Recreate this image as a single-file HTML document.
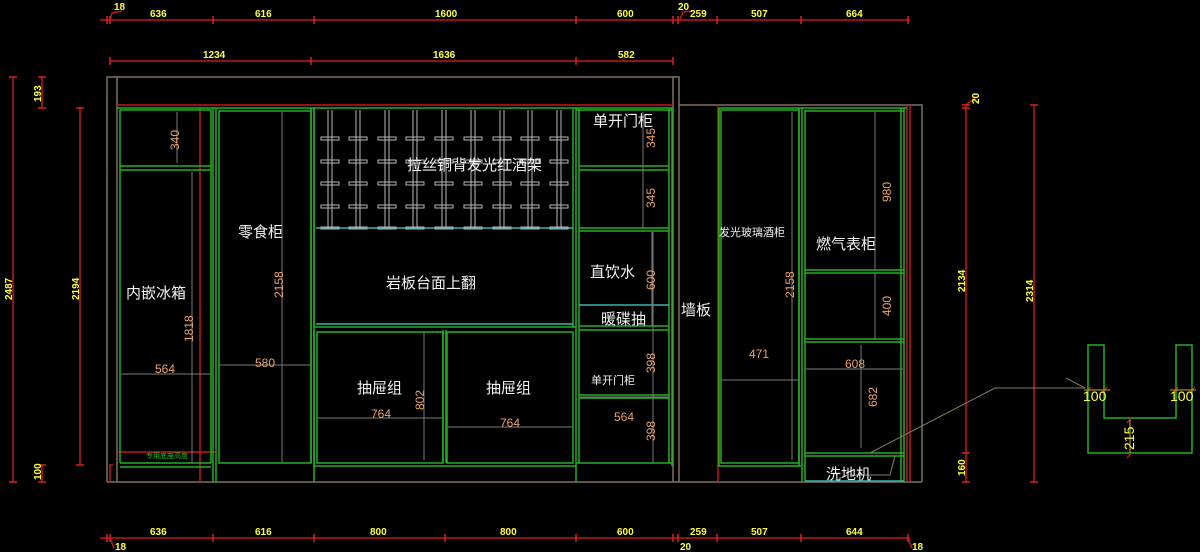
<!DOCTYPE html>
<html><head><meta charset="utf-8"><style>
html,body{margin:0;padding:0;background:#000;}
svg{display:block}
text{font-family:"Liberation Sans","Noto Sans CJK SC",sans-serif;}
.w{fill:#f2f2f2;font-size:15px;}
.o{fill:#e9a46c;font-size:12px;font-family:"Liberation Sans Narrow","Liberation Sans",sans-serif;}
.y{fill:#ffff40;font-size:10px;font-weight:bold;font-family:"Liberation Sans Narrow","Liberation Sans",sans-serif;}
</style></head><body>
<svg width="1200" height="552" viewBox="0 0 1200 552" xmlns="http://www.w3.org/2000/svg">
<rect width="1200" height="552" fill="#000"/>
<g stroke="#c01818" stroke-width="1.5" fill="none">
<line x1="100" y1="20" x2="910" y2="20"/>
<line x1="110" y1="61" x2="673" y2="61"/>
<line x1="100" y1="538" x2="910" y2="538"/>
<line x1="13" y1="77" x2="13" y2="482"/>
<line x1="42" y1="77" x2="42" y2="108"/>
<line x1="42" y1="465" x2="42" y2="482"/>
<line x1="80" y1="108" x2="80" y2="465"/>
<line x1="966" y1="105" x2="966" y2="482"/>
<line x1="1034" y1="105" x2="1034" y2="482"/>
<path d="M110 20 L112 13 L122 11"/><path d="M680 20 L683 12 L692 11"/>
<path d="M110 538 L114 548"/><path d="M908 538 L912 548"/>
<path d="M966 105 L975 98"/>
</g>
<g stroke="#e02020" stroke-width="1.5">
<path d="M107 16v8M110 16v8M213 16v8M314 16v8M576 16v8M673 16v8M678 16v8M717 16v8M801 16v8M908 16v8"/>
<path d="M110 57v8M311 57v8M576 57v8M673 57v8"/>
<path d="M107 534v8M110 534v8M213 534v8M314 534v8M445 534v8M576 534v8M673 534v8M678 534v8M717 534v8M801 534v8M908 534v8"/>
<path d="M9 77h8M9 482h8M38 77h8M38 108h8M38 465h8M38 482h8M76 108h8M76 465h8"/>
<path d="M962 105h8M962 108h8M962 453h8M962 482h8M1030 105h8M1030 482h8"/>
</g>
<g class="y">
<text class="y" x="114" y="10">18</text>
<text class="y" x="150" y="17">636</text><text class="y" x="255" y="17">616</text>
<text class="y" x="435" y="17">1600</text><text class="y" x="617" y="17">600</text>
<text class="y" x="678" y="10">20</text><text class="y" x="690" y="17">259</text>
<text class="y" x="751" y="17">507</text><text class="y" x="846" y="17">664</text>
<text class="y" x="203" y="58">1234</text><text class="y" x="433" y="58">1636</text><text class="y" x="618" y="58">582</text>
<text class="y" x="150" y="535">636</text><text class="y" x="255" y="535">616</text>
<text class="y" x="370" y="535">800</text><text class="y" x="500" y="535">800</text>
<text class="y" x="617" y="535">600</text><text class="y" x="690" y="535">259</text>
<text class="y" x="751" y="535">507</text><text class="y" x="846" y="535">644</text>
<text class="y" x="115" y="550">18</text><text class="y" x="680" y="550">20</text><text class="y" x="912" y="550">18</text>
<text class="y" transform="translate(12,300) rotate(-90)">2487</text>
<text class="y" transform="translate(41,102) rotate(-90)">193</text>
<text class="y" transform="translate(41,480) rotate(-90)">100</text>
<text class="y" transform="translate(79,300) rotate(-90)">2194</text>
<text class="y" transform="translate(979,104) rotate(-90)">20</text>
<text class="y" transform="translate(965,292) rotate(-90)">2134</text>
<text class="y" transform="translate(965,476) rotate(-90)">160</text>
<text class="y" transform="translate(1033,302) rotate(-90)">2314</text>
</g>
<g stroke="#7d7060" stroke-width="1.5" fill="none">
<path d="M107 482 V77 H679 V482"/><path d="M117 77 V482"/><path d="M673 77 V482"/>
<path d="M679 105 H922 V482"/><path d="M107 482 H922"/>
</g>
<g stroke="#c01818" stroke-width="1.5" fill="none">
<path d="M117 105 H673"/><path d="M200 108 V482"/><path d="M117 452 H215"/>
<path d="M110 482 V465 H113"/>
<path d="M718 105 V482"/><path d="M907 105 V482"/><path d="M910 105 V482"/>
</g>
<g stroke="#22b022" stroke-width="1.5" fill="none">
<path d="M117 108 H673"/>
<rect x="120" y="110" width="91" height="56"/>
<path d="M120 170 H211 M120 166 V463 M211 166 V463 M120 463 H211 M120 467 H211"/>
<path d="M213 108 V482 M216 108 V482"/>
<rect x="219" y="111" width="92" height="352"/>
<path d="M311 108 V463 M314 108 V482"/>
<path d="M314 108 V327 M576 108 V482 M573 108 V327"/>
<path d="M314 327 H576"/>
<rect x="317" y="332" width="126" height="131"/><rect x="447" y="332" width="126" height="131"/>
<path d="M314 330 V466 H576 M443 330 V463 M446 330 V463"/>
<path d="M576 110 H672 M672 108 V466 M669 108 V463 M579 108 V463"/>
<path d="M579 166 H669 M579 170 H669"/>
<path d="M579 228 H669 M579 231 H669"/>
<path d="M579 326 H669 M579 330 H669"/>
<path d="M579 395 H669 M579 398 H669"/>
<path d="M576 463 H672"/>
<path d="M719 108 H907"/>
<rect x="721" y="110" width="78" height="353"/>
<path d="M719 108 V466 H801 M799 108 V466 M802 108 V482 M805 110 V482"/>
<path d="M805 111 H904 M904 108 V482 M901 108 V482"/>
<path d="M805 270 H904 M805 273 H904"/>
<path d="M805 339 H904 M805 342 H904"/>
<path d="M805 453 H904 M805 456 H904"/>
<path d="M1088 345 V453 H1192 V345 H1176 V418 H1104 V345 Z"/>
</g>
<g stroke="#3ab0b0" stroke-width="1.5" fill="none">
<path d="M316 228 H573 M316 324 H573 M579 305 H669 M805 481 H904"/>
</g>
<g stroke="#b8b8b8" stroke-width="1" fill="none">
<path d="M328 110V228M332 110V228M356 110V228M360 110V228M385 110V228M389 110V228M413 110V228M417 110V228M442 110V228M446 110V228M471 110V228M475 110V228M500 110V228M504 110V228M528 110V228M532 110V228M557 110V228M561 110V228"/>
<g id="bars">
<path d="M321 137h18v3h-18zM321 160h18v3h-18zM321 182h18v3h-18zM321 205h18v3h-18zM321 227h18v2h-18z"/>
</g>
<use href="#bars" x="28"/><use href="#bars" x="57"/><use href="#bars" x="85"/><use href="#bars" x="114"/><use href="#bars" x="143"/><use href="#bars" x="172"/><use href="#bars" x="200"/><use href="#bars" x="229"/>
</g>
<g stroke="#7a7a7a" stroke-width="1" fill="none">
<path d="M177 112 V163 M192 172 V463 M282 112 V463 M643 112 V228 M653 232 V463 M652 232 V326"/>
<path d="M121 374 H211 M218 365 H311 M318 418 H442 M448 427 H572 M424 332 V460 M580 397 H669 M792 112 V460 M875 112 V270 M875 273 V339 M861 345 V448 M722 380 H799 M806 369 H903"/>
</g>
<g stroke="#8a7a60" stroke-width="1" fill="none">
<path d="M870 453 L995 388 H1085"/><path d="M1066 378 L1085 388"/>
<path d="M895 456 L890 475 H850"/>
</g>
<g stroke="#e02020" stroke-width="1.2"><path d="M1086 393l5-6M1102 393l5-6M1173 393l5-6M1190 393l5-6M1127 423l5-6M1127 458l5-6"/></g>
<g stroke="#c8b020" stroke-width="1"><path d="M1084 390H1110M1170 390H1196M1130 420V453"/></g>
<text class="w" x="407" y="170">拉丝铜背发光红酒架</text>
<text class="w" x="386" y="288">岩板台面上翻</text>
<text class="w" x="238" y="237">零食柜</text>
<text class="w" x="126" y="298">内嵌冰箱</text>
<text class="w" x="357" y="393">抽屉组</text>
<text class="w" x="486" y="393">抽屉组</text>
<text class="w" x="593" y="126">单开门柜</text>
<text class="w" x="590" y="277">直饮水</text>
<text class="w" x="601" y="324">暖碟抽</text>
<text class="w" x="591" y="384" style="font-size:11px">单开门柜</text>
<text class="w" x="681" y="315">墙板</text>
<text class="w" x="719" y="236" style="font-size:11px">发光玻璃酒柜</text>
<text class="w" x="816" y="249">燃气表柜</text>
<text class="w" x="826" y="479">洗地机</text>
<text x="146" y="458" style="fill:#22c022;font-size:7px">专用底座高度</text>
<g class="o">
<text class="o" x="155" y="373">564</text><text class="o" x="255" y="367">580</text>
<text class="o" x="371" y="418">764</text><text class="o" x="500" y="427">764</text>
<text class="o" x="614" y="421">564</text><text class="o" x="749" y="358">471</text>
<text class="o" x="845" y="368">608</text>
<text class="o" transform="translate(179,150) rotate(-90)">340</text>
<text class="o" transform="translate(193,342) rotate(-90)">1818</text>
<text class="o" transform="translate(283,298) rotate(-90)">2158</text>
<text class="o" transform="translate(424,410) rotate(-90)">802</text>
<text class="o" transform="translate(655,148) rotate(-90)">345</text>
<text class="o" transform="translate(655,208) rotate(-90)">345</text>
<text class="o" transform="translate(655,290) rotate(-90)">600</text>
<text class="o" transform="translate(655,373) rotate(-90)">398</text>
<text class="o" transform="translate(655,441) rotate(-90)">398</text>
<text class="o" transform="translate(794,298) rotate(-90)">2158</text>
<text class="o" transform="translate(891,202) rotate(-90)">980</text>
<text class="o" transform="translate(891,316) rotate(-90)">400</text>
<text class="o" transform="translate(877,407) rotate(-90)">682</text>
</g>
<text x="1083" y="401" style="fill:#ffff40;font-size:14px">100</text>
<text x="1170" y="401" style="fill:#ffff40;font-size:14px">100</text>
<text transform="translate(1134,450) rotate(-90)" style="fill:#ffff40;font-size:14px">215</text>
</svg>
</body></html>
